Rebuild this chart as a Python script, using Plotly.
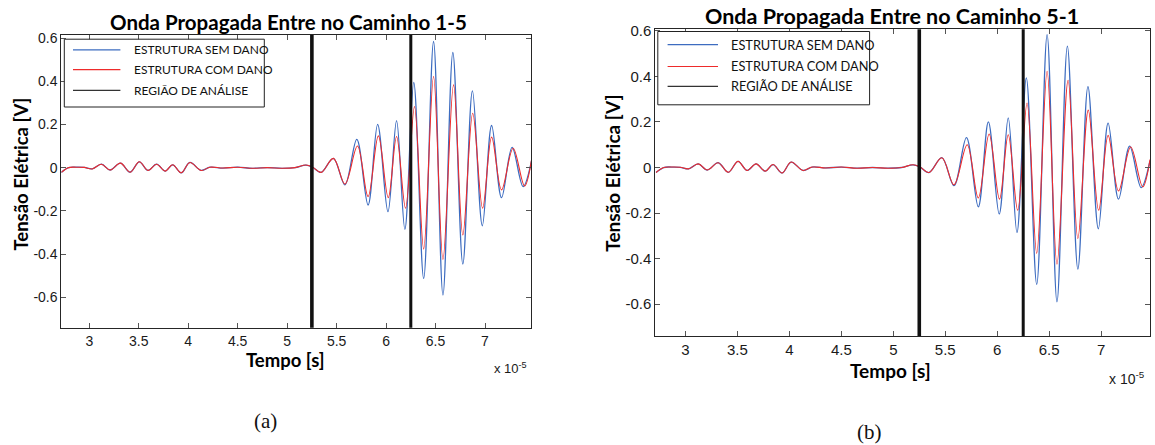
import plotly.graph_objects as go

W, H = 1155, 445

# ---------------- data (time in units of 1e-5 s, voltage in V) ----------------
tempo_sem_dano = [2.717, 2.79, 2.87, 2.95, 3.03, 3.123, 3.21, 3.315, 3.412, 3.506, 3.593, 3.68,
                  3.767, 3.843, 3.93, 4.017, 4.131, 4.22, 4.35, 4.5, 4.65, 4.8, 4.95, 5.08, 5.19,
                  5.255, 5.343, 5.467, 5.584, 5.704, 5.818, 5.915, 6.019, 6.106, 6.19, 6.28, 6.38,
                  6.48, 6.575, 6.675, 6.776, 6.873, 6.973, 7.067, 7.167, 7.274, 7.385, 7.47]
tensao_sem_dano = [-0.022, 0.0, 0.002, 0.001, -0.006, 0.016, -0.011, 0.021, -0.021, 0.027, -0.013, 0.016,
                   -0.016, 0.013, -0.024, 0.024, -0.013, 0.002, -0.002, 0.002, -0.003, 0.0, -0.003, 0.0, 0.012,
                   0.003, -0.022, 0.043, -0.08, 0.131, -0.173, 0.2, -0.204, 0.218, -0.286, 0.394, -0.513,
                   0.584, -0.59, 0.533, -0.446, 0.355, -0.269, 0.195, -0.139, 0.094, -0.088, 0.03]
tempo_com_dano = [2.717, 2.79, 2.87, 2.95, 3.03, 3.123, 3.21, 3.315, 3.412, 3.506, 3.593, 3.68,
                  3.767, 3.843, 3.93, 4.017, 4.131, 4.22, 4.35, 4.5, 4.65, 4.8, 4.95, 5.08, 5.19,
                  5.255, 5.343, 5.467, 5.584, 5.711, 5.818, 5.922, 6.022, 6.106, 6.197, 6.287, 6.38,
                  6.48, 6.575, 6.682, 6.776, 6.876, 6.976, 7.067, 7.167, 7.284, 7.40, 7.47]
tensao_com_dano = [-0.022, 0.0, 0.002, 0.001, -0.006, 0.016, -0.011, 0.021, -0.021, 0.027, -0.013, 0.016,
                   -0.016, 0.013, -0.024, 0.024, -0.013, 0.002, -0.002, 0.002, -0.003, 0.0, -0.003, 0.0, 0.012,
                   0.003, -0.022, 0.043, -0.076, 0.1, -0.134, 0.147, -0.139, 0.144, -0.188, 0.283, -0.377,
                   0.422, -0.425, 0.383, -0.312, 0.252, -0.188, 0.141, -0.103, 0.09, -0.085, 0.035]
regiao_analise = [5.25, 6.25]

x_ticks = [3, 3.5, 4, 4.5, 5, 5.5, 6, 6.5, 7]
x_tick_labels = ["3", "3.5", "4", "4.5", "5", "5.5", "6", "6.5", "7"]
y_ticks = [-0.6, -0.4, -0.2, 0, 0.2, 0.4, 0.6]
y_tick_labels = ["-0.6", "-0.4", "-0.2", "0", "0.2", "0.4", "0.6"]

titulos = ["Onda Propagada Entre no Caminho 1-5", "Onda Propagada Entre no Caminho 5-1"]
rotulos_painel = ["(a)", "(b)"]
legenda_nomes = ["ESTRUTURA SEM DANO", "ESTRUTURA COM DANO", "REGIÃO DE ANÁLISE"]
rotulo_y = "Tensão Elétrica [V]"
rotulo_x = "Tempo [s]"

# ---------------- styles / layout geometry (pixels) ----------------
AZUL = "#3d6cc0"
VERMELHO = "#ee2b2b"
PRETO = "#111111"
legenda_cores = [AZUL, VERMELHO, "#333333"]

paineis = [
    dict(box=(61.3, 35.0, 531.0, 327.7), xr=[2.717, 7.465], yr=[-0.741, 0.614],
         tick=14, lab=18.5, tit=20.5, title_xy=(288, 22), ylab_xy=(20.6, 174),
         xlab_xy=(285, 360), exp_xy=(510, 368), cap_xy=(265, 421),
         leg_box=(64.3, 39.2, 264.3, 107.0), leg_rows=(49.8, 69.7, 90.4),
         leg_line=(73.0, 120.4), leg_text=131.8, leg_font=12),
    dict(box=(655.3, 29.3, 1150.0, 336.0), xr=[2.71, 7.47], yr=[-0.74, 0.607],
         tick=15, lab=19, tit=21.5, title_xy=(892, 15.8), ylab_xy=(611.7, 173),
         xlab_xy=(890, 370), exp_xy=(1127, 378), cap_xy=(869, 432),
         leg_box=(657.8, 31.5, 869.6, 104.8), leg_rows=(44.7, 66.5, 86.3),
         leg_line=(667.6, 718.0), leg_text=728.9, leg_font=12.8),
]


def px(p):
    return p / W


def py(p):
    return 1 - p / H


fig = go.Figure()
shapes = []
annotations = []
layout_axes = {}

for i, p in enumerate(paineis):
    sfx = "" if i == 0 else str(i + 1)
    xa, ya = "x" + sfx, "y" + sfx
    x0, y0, x1, y1 = p["box"]

    fig.add_trace(go.Scatter(x=tempo_sem_dano, y=tensao_sem_dano, xaxis=xa, yaxis=ya,
                             mode="lines", line=dict(color=AZUL, width=1.3, shape="spline", smoothing=1.0),
                             name=legenda_nomes[0], showlegend=False, hoverinfo="skip"))
    fig.add_trace(go.Scatter(x=tempo_com_dano, y=tensao_com_dano, xaxis=xa, yaxis=ya,
                             mode="lines", line=dict(color=VERMELHO, width=1.1, shape="spline", smoothing=1.0),
                             name=legenda_nomes[1], showlegend=False, hoverinfo="skip"))
    for k, xv in enumerate(regiao_analise):
        fig.add_trace(go.Scatter(x=[xv, xv], y=[p["yr"][0] - 0.1, p["yr"][1] + 0.1], xaxis=xa, yaxis=ya,
                                 mode="lines", line=dict(color=PRETO, width=3.6 if k == 0 else 3.0),
                                 name=legenda_nomes[2], showlegend=False, hoverinfo="skip"))

    common = dict(showgrid=False, zeroline=False, showline=True, linecolor="#262626", linewidth=1,
                  mirror="ticks", ticks="inside", ticklen=5, tickcolor="#555555", tickwidth=1,
                  tickfont=dict(family="Liberation Sans, Arial", size=p["tick"], color="#1a1a1a"),
                  fixedrange=True, automargin=False)
    layout_axes["xaxis" + sfx] = dict(common, domain=[px(x0), px(x1)], range=p["xr"], anchor=ya,
                                      tickmode="array", tickvals=x_ticks, ticktext=x_tick_labels)
    layout_axes["yaxis" + sfx] = dict(common, domain=[py(y1), py(y0)], range=p["yr"], anchor=xa,
                                      tickmode="array", tickvals=y_ticks, ticktext=y_tick_labels)

    bold = dict(family="Lato, Open Sans, sans-serif", color="#000000", weight="bold")
    annotations.append(dict(text=titulos[i], xref="paper", yref="paper", x=px(p["title_xy"][0]),
                            y=py(p["title_xy"][1]), xanchor="center", yanchor="middle", showarrow=False,
                            font=dict(bold, size=p["tit"])))
    annotations.append(dict(text=rotulo_y, xref="paper", yref="paper", x=px(p["ylab_xy"][0]),
                            y=py(p["ylab_xy"][1]), xanchor="center", yanchor="middle", showarrow=False,
                            textangle=-90, font=dict(bold, size=p["lab"])))
    annotations.append(dict(text=rotulo_x, xref="paper", yref="paper", x=px(p["xlab_xy"][0]),
                            y=py(p["xlab_xy"][1]), xanchor="center", yanchor="middle", showarrow=False,
                            font=dict(bold, size=p["lab"])))
    annotations.append(dict(text="x 10<sup>-5</sup>", xref="paper", yref="paper", x=px(p["exp_xy"][0]),
                            y=py(p["exp_xy"][1]), xanchor="center", yanchor="middle", showarrow=False,
                            font=dict(family="Liberation Sans, Arial", size=p["tick"] - 1, color="#1a1a1a")))
    annotations.append(dict(text=rotulos_painel[i], xref="paper", yref="paper", x=px(p["cap_xy"][0]),
                            y=py(p["cap_xy"][1]), xanchor="center", yanchor="middle", showarrow=False,
                            font=dict(family="Liberation Serif, Times New Roman, serif", size=21, color="#111111")))

    # legend box
    lx0, ly0, lx1, ly1 = p["leg_box"]
    shapes.append(dict(type="rect", xref="paper", yref="paper", x0=px(lx0), x1=px(lx1),
                       y0=py(ly1), y1=py(ly0), line=dict(color="#222222", width=1),
                       fillcolor="white", layer="above"))
    for k, nome in enumerate(legenda_nomes):
        yrow = p["leg_rows"][k]
        shapes.append(dict(type="line", xref="paper", yref="paper", x0=px(p["leg_line"][0]),
                           x1=px(p["leg_line"][1]), y0=py(yrow), y1=py(yrow),
                           line=dict(color=legenda_cores[k], width=1.2), layer="above"))
        annotations.append(dict(text=nome, xref="paper", yref="paper", x=px(p["leg_text"]), y=py(yrow),
                                xanchor="left", yanchor="middle", showarrow=False,
                                font=dict(family="Lato, Open Sans, sans-serif", size=p["leg_font"],
                                          color="#111111")))

fig.update_layout(template="none", width=W, height=H, autosize=False, margin=dict(l=0, r=0, t=0, b=0, pad=0),
                  paper_bgcolor="white", plot_bgcolor="white", showlegend=False,
                  shapes=shapes, annotations=annotations, **layout_axes)

fig.write_html("out.html", config={"displayModeBar": False},
               post_script="document.body.style.margin='0px';document.body.style.overflow='hidden';")
